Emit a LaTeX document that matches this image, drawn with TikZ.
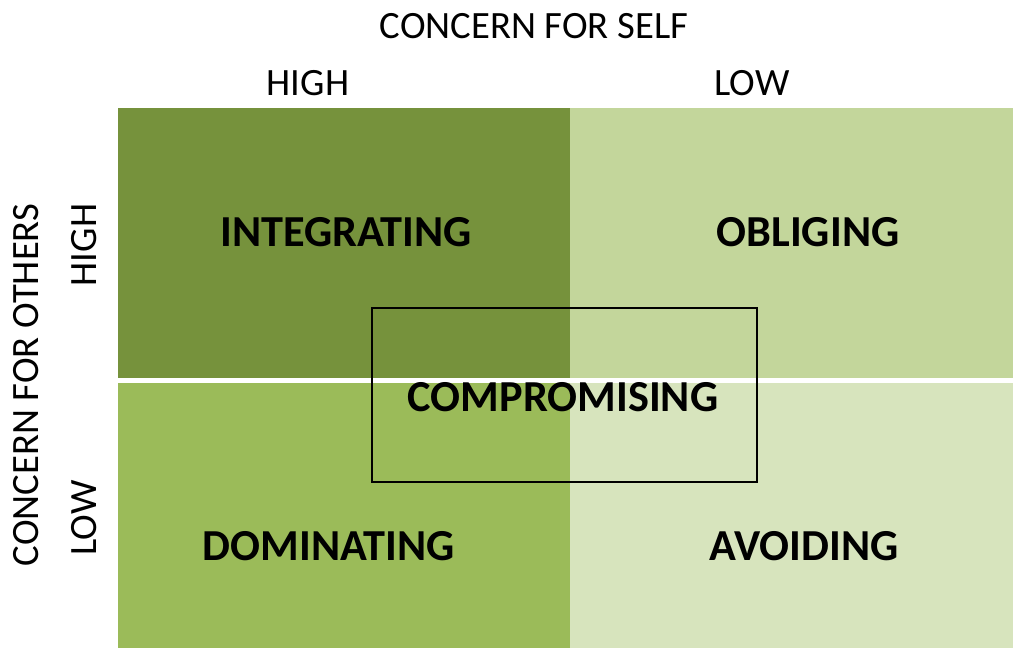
\documentclass[tikz,border=0pt]{standalone}
\usepackage{fontspec}
\setmainfont{Carlito}
\definecolor{olivedark}{RGB}{118,146,60}
\definecolor{olivemid}{RGB}{155,187,89}
\definecolor{olivelight}{RGB}{195,214,155}
\definecolor{olivepale}{RGB}{215,228,189}

\begin{document}
\begin{tikzpicture}[x=0.25mm,y=-0.25mm,
  quadlabel/.style={font=\fontsize{31.5}{38}\selectfont\bfseries},
  axislabel/.style={font=\fontsize{27.5}{32}\selectfont}]
\useasboundingbox (0,0) rectangle (1013,648);
\fill[olivedark] (118,108) rectangle (570,378);
\fill[olivelight] (570,108) rectangle (1013,378);
\fill[olivemid] (118,383) rectangle (570,648);
\fill[olivepale] (570,383) rectangle (1013,648);
\node [axislabel] (self) at (534,26) {CONCERN FOR SELF};
\node [axislabel] (selfhigh) at (308,83) {HIGH};
\node [axislabel] (selflow) at (752,83) {LOW};
\node [axislabel,rotate=90] (others) at (26,385) {CONCERN FOR OTHERS};
\node [axislabel,rotate=90] (othershigh) at (84,245) {HIGH};
\node [axislabel,rotate=90] (otherslow) at (84,518) {LOW};
\node [quadlabel] (integrating) at (346,232) {INTEGRATING};
\node [quadlabel] (obliging) at (808,232) {OBLIGING};
\node [quadlabel] (dominating) at (329,546) {DOMINATING};
\node [quadlabel] (avoiding) at (804,546) {AVOIDING};
\node [draw,line width=0.8pt,minimum width=96.25mm,minimum height=43.5mm] (compbox) at (564.5,395) {};
\node [quadlabel] (compromising) at (563,397) {COMPROMISING};
\end{tikzpicture}
\end{document}
